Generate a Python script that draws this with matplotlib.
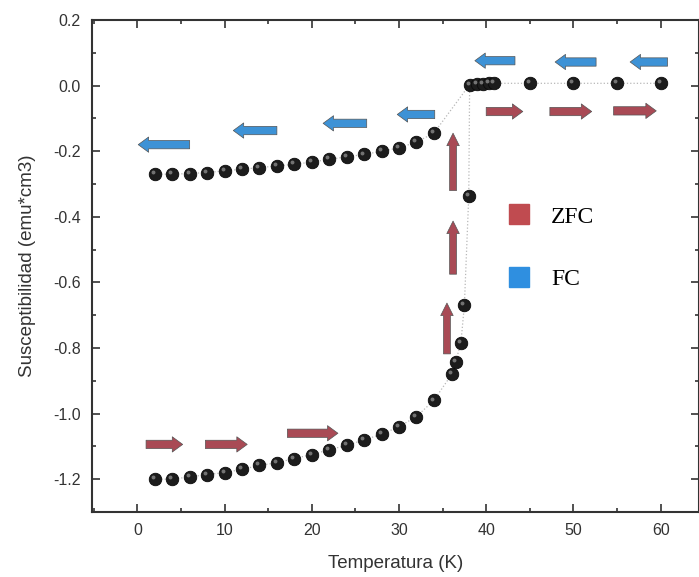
import matplotlib.pyplot as plt
from matplotlib.lines import Line2D
from matplotlib.transforms import offset_copy

# ZFC branch (heating after zero-field cooling)
zfc_T = [2, 4, 6, 8, 10, 12, 14, 16, 18, 20, 22, 24, 26, 28, 30, 32, 34,
         36.1, 36.5, 37.1, 37.5, 38.0]
zfc_chi = [-1.200, -1.200, -1.193, -1.186, -1.180, -1.170, -1.158, -1.150,
           -1.137, -1.125, -1.110, -1.097, -1.080, -1.063, -1.040, -1.009,
           -0.960, -0.878, -0.842, -0.784, -0.669, -0.337]
# normal state, above Tc
high_T = [38.1, 38.9, 39.6, 40.3, 40.9, 45, 50, 55, 60]
high_chi = [0.003, 0.005, 0.006, 0.007, 0.007, 0.007, 0.007, 0.007, 0.007]
# FC branch
fc_T = [2, 4, 6, 8, 10, 12, 14, 16, 18, 20, 22, 24, 26, 28, 30, 32, 34]
fc_chi = [-0.270, -0.270, -0.268, -0.265, -0.260, -0.255, -0.250, -0.245,
          -0.240, -0.233, -0.225, -0.217, -0.210, -0.200, -0.190, -0.172,
          -0.145]

# direction arrows: (x_from, y_from, x_to, y_to)
fc_arrows = [(6.0, -0.180, 0.1, -0.180), (16.0, -0.137, 11.0, -0.137),
             (26.3, -0.115, 21.3, -0.115), (34.1, -0.088, 29.8, -0.088),
             (43.3, 0.076, 38.7, 0.076), (52.6, 0.072, 47.9, 0.072),
             (60.8, 0.072, 56.5, 0.072)]
zfc_arrows = [(1.0, -1.094, 5.2, -1.094), (7.8, -1.094, 12.6, -1.094),
              (17.2, -1.060, 23.0, -1.060), (40.0, -0.079, 44.2, -0.079),
              (47.3, -0.079, 52.1, -0.079), (54.6, -0.077, 59.5, -0.077)]
zfc_up_arrows = [(36.2, -0.320, 36.2, -0.145), (36.2, -0.575, 36.2, -0.413),
                 (35.5, -0.818, 35.5, -0.663)]

red = '#a94a55'
blue = '#3d92d6'

plt.rcParams['font.family'] = ['Liberation Sans', 'DejaVu Sans']
fig = plt.figure(figsize=(6.99, 5.77), dpi=100)
ax = fig.add_axes([0.1316, 0.1127, 0.8684, 0.8526])

# thin connecting line
ax.plot(zfc_T + high_T, zfc_chi + high_chi, ls=':', lw=0.9, color='#b8b8b8', zorder=1)
ax.plot(fc_T + high_T[:1], fc_chi + high_chi[:1], ls=':', lw=0.9, color='#b8b8b8', zorder=1)

allT = zfc_T + high_T + fc_T
allchi = zfc_chi + high_chi + fc_chi
ax.plot(allT, allchi, 'o', ms=9, mfc='#1c1c1c', mec='#0a0a0a', mew=0.6, zorder=3)
hl = offset_copy(ax.transData, fig=fig, x=-1.4, y=1.4, units='points')
ax.plot(allT, allchi, 'o', ms=2.8, mfc='#8a8a8a', mec='none', alpha=0.8,
        transform=hl, zorder=4)

def draw_arrows(arrows, c, style):
    for x0, y0, x1, y1 in arrows:
        ax.annotate('', xy=(x1, y1), xytext=(x0, y0),
                    arrowprops=dict(arrowstyle=style, fc=c, ec='#555555', lw=0.5,
                                    shrinkA=0, shrinkB=0), zorder=2)

hstyle = 'simple,head_length=0.75,head_width=1.1,tail_width=0.6'
vstyle = 'simple,head_length=0.9,head_width=0.9,tail_width=0.5'
draw_arrows(fc_arrows, blue, hstyle)
draw_arrows(zfc_arrows, red, hstyle)
draw_arrows(zfc_up_arrows, red, vstyle)

handles = [Line2D([], [], ls='none', marker='s', ms=15, mfc='#c04b50', mec='#c04b50'),
           Line2D([], [], ls='none', marker='s', ms=15, mfc='#2f8fe0', mec='#2f8fe0')]
ax.legend(handles, ['ZFC', 'FC'], loc='upper left', bbox_to_anchor=(0.63, 0.665),
          frameon=False, labelspacing=1.75, handletextpad=0.35,
          prop={'family': 'Liberation Serif', 'size': 17})

ax.set_xlim(-5.2, 64.4)
ax.set_ylim(-1.3, 0.2)
ax.set_xticks(range(0, 61, 10))
ax.set_xticks(range(-5, 65, 10), minor=True)
ax.set_yticks([0.2, 0.0, -0.2, -0.4, -0.6, -0.8, -1.0, -1.2])
ax.set_yticks([0.1, -0.1, -0.3, -0.5, -0.7, -0.9, -1.1], minor=True)
ax.set_yticklabels(['0.2', '0.0', '-0.2', '-0.4', '-0.6', '-0.8', '-1.0', '-1.2'])
ax.tick_params(which='both', direction='in', top=True, right=True,
               labelsize=11.5, colors='#333333', width=1.2)
ax.tick_params(which='major', length=6, pad=8)
ax.tick_params(which='minor', length=3)
for s in ax.spines.values():
    s.set_linewidth(1.5)
    s.set_color('#333333')

ax.set_xlabel('Temperatura (K)', fontsize=13.5, color='#333333', labelpad=12)
ax.set_ylabel('Susceptibilidad (emu*cm3)', fontsize=13.5, color='#333333', labelpad=12)

fig.savefig('out.png', dpi=100)
